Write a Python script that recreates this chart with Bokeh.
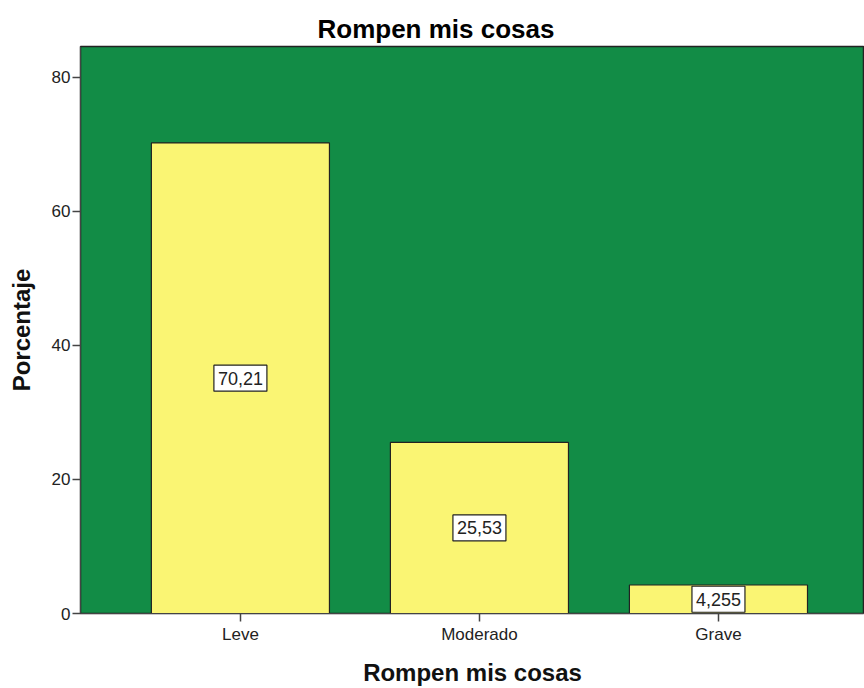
from bokeh.plotting import figure
from bokeh.models import Range1d, FixedTicker, ColumnDataSource
from bokeh.core.properties import value
from bokeh.embed import file_html
from bokeh.resources import INLINE

categories = ["Leve", "Moderado", "Grave"]
percentages = [70.21, 25.53, 4.255]
value_labels = ["70,21", "25,53", "4,255"]
y_ticks = [0, 20, 40, 60, 80]

xs = list(range(1, len(categories) + 1))
mids = [v / 2 for v in percentages]
src = ColumnDataSource(dict(x=xs, top=percentages, mid=mids, lab=value_labels))

FONT = "Liberation Sans"
GREEN = "#128C46"
YELLOW = "#FAF573"

p = figure(width=864, height=688, output_backend="svg", toolbar_location=None,
           x_range=Range1d(0.331, 3.611), y_range=Range1d(0, 84.6),
           min_border_left=80, min_border_right=0, min_border_top=46, min_border_bottom=75)

p.background_fill_color = GREEN
p.border_fill_color = "white"
p.outline_line_color = "#222222"
p.outline_line_width = 1.5
p.xgrid.visible = False
p.ygrid.visible = False

p.vbar(x="x", top="top", width=0.745, bottom=0, source=src,
       fill_color=YELLOW, line_color="#222222", line_width=1.2)

p.rect(x="x", y="mid", width=53, height=26, width_units="screen", height_units="screen",
       source=src, fill_color="white", line_color="#222222", line_width=1.2)
p.text(x="x", y="mid", text="lab", source=src, text_align="center", text_baseline="middle",
       text_font=value(FONT), text_font_size="18px", text_color="#222222")

p.title.text = "Rompen mis cosas"
p.title.text_font = FONT
p.title.text_font_size = "26px"
p.title.text_font_style = "bold"
p.title.text_color = "#000000"
p.title.align = "left"
p.title.offset = 237
p.title.standoff = 6

p.xaxis.ticker = FixedTicker(ticks=xs)
p.xaxis.major_label_overrides = {x: c for x, c in zip(xs, categories)}
p.yaxis.ticker = FixedTicker(ticks=y_ticks)

p.xaxis.axis_label = "Rompen mis cosas"
p.yaxis.axis_label = "Porcentaje"
for ax in (p.xaxis, p.yaxis):
    ax.axis_label_text_font = FONT
    ax.axis_label_text_font_size = "24px"
    ax.axis_label_text_font_style = "bold"
    ax.axis_label_text_color = "#111111"
    ax.major_label_text_font = FONT
    ax.major_label_text_font_size = "17px"
    ax.major_label_text_color = "#222222"
    ax.axis_line_color = "#444444"
    ax.major_tick_line_color = "#444444"
    ax.major_tick_line_width = 1.5
    ax.major_tick_out = 8
    ax.major_tick_in = 0
    ax.minor_tick_line_color = None
p.xaxis.major_label_standoff = 3
p.xaxis.axis_label_standoff = 12
p.yaxis.major_label_standoff = 2
p.yaxis.axis_label_standoff = 14

open("out.html", "w").write(file_html(p, INLINE))
